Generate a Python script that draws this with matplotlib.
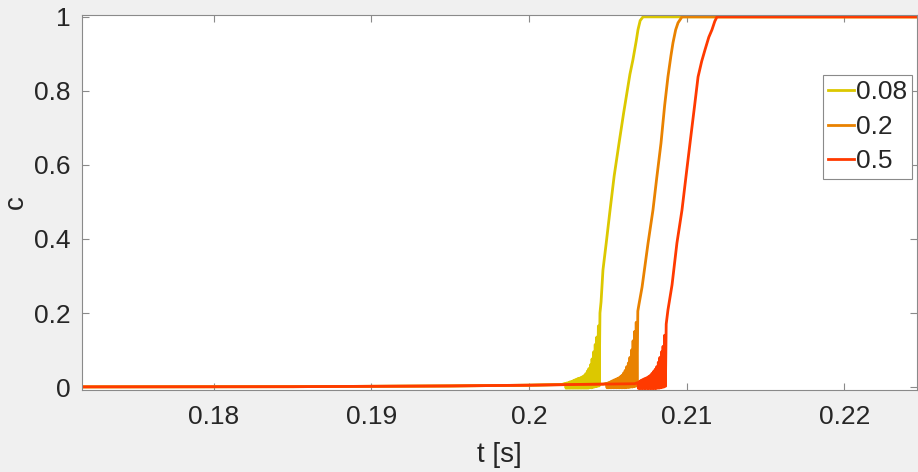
import numpy as np
import matplotlib
matplotlib.use('Agg')
import matplotlib.pyplot as plt
from matplotlib.ticker import FuncFormatter

plt.rcParams['font.family'] = ['Liberation Sans', 'DejaVu Sans']

# series 0.08 (flat start, oscillating onset, rise to 1)
t_008 = [0.1717, 0.185, 0.195, 0.200, 0.2021,
         0.2023, 0.20235, 0.2024, 0.20245, 0.2025, 0.20255, 0.2026, 0.20265,
         0.2027, 0.20275, 0.2028, 0.20285, 0.2029, 0.20295, 0.2030, 0.20305,
         0.2031, 0.20315, 0.2032, 0.20325, 0.2033, 0.20335, 0.2034, 0.20345,
         0.2035, 0.20355, 0.2036, 0.20365, 0.2037, 0.20375, 0.2038, 0.20385,
         0.2039, 0.20395, 0.2040, 0.20405, 0.2041, 0.20415, 0.2042, 0.20425,
         0.2043, 0.20435, 0.2044, 0.20445, 0.2045,
         0.20457, 0.20469, 0.2049, 0.20514, 0.2054, 0.20571, 0.2060, 0.20621,
         0.2064, 0.20659, 0.2068, 0.20691, 0.20705, 0.20723, 0.2247]
c_008 = [0.0005, 0.001, 0.003, 0.005, 0.007,
         0.010, -0.003, 0.011, -0.003, 0.012, -0.003, 0.014, -0.003,
         0.015, -0.003, 0.017, -0.003, 0.019, -0.003, 0.021, -0.003,
         0.023, -0.003, 0.024, -0.003, 0.026, -0.003, 0.028, -0.003,
         0.031, -0.003, 0.036, -0.003, 0.043, -0.003, 0.050, -0.002,
         0.060, -0.002, 0.076, -0.001, 0.095, 0.000, 0.115, 0.001,
         0.135, 0.002, 0.165, 0.003, 0.200,
         0.230, 0.316, 0.390, 0.478, 0.570, 0.659, 0.740, 0.795,
         0.845, 0.884, 0.935, 0.965, 0.990, 1.0, 1.0]

# series 0.2
t_02 = [0.1717, 0.185, 0.195, 0.200, 0.2030, 0.2047,
        0.2049, 0.20495, 0.2050, 0.20505, 0.2051, 0.20515, 0.2052, 0.20525,
        0.2053, 0.20535, 0.2054, 0.20545, 0.2055, 0.20555, 0.2056, 0.20565,
        0.2057, 0.20575, 0.2058, 0.20585, 0.2059, 0.20595, 0.2060, 0.20605,
        0.2061, 0.20615, 0.2062, 0.20625, 0.2063, 0.20635, 0.2064, 0.20645,
        0.2065, 0.20655, 0.2066, 0.20665, 0.2067, 0.20675, 0.2068, 0.20685,
        0.2069,
        0.20698, 0.20717, 0.20755, 0.20786, 0.2081, 0.20837, 0.2086, 0.20881,
        0.2090, 0.20913, 0.2093, 0.20945, 0.20970, 0.2247]
c_02 = [0.0005, 0.001, 0.003, 0.005, 0.007, 0.008,
        0.010, -0.002, 0.011, -0.002, 0.013, -0.002, 0.015, -0.002,
        0.017, -0.002, 0.019, -0.002, 0.021, -0.002, 0.023, -0.002,
        0.025, -0.002, 0.028, -0.002, 0.032, -0.002, 0.038, -0.002,
        0.045, -0.002, 0.055, -0.001, 0.065, -0.001, 0.080, 0.000,
        0.100, 0.000, 0.125, 0.001, 0.150, 0.002, 0.175, 0.003,
        0.205,
        0.225, 0.270, 0.389, 0.478, 0.565, 0.659, 0.760, 0.838,
        0.895, 0.930, 0.965, 0.984, 1.0, 1.0]

# series 0.5
t_05 = [0.1717, 0.185, 0.195, 0.200, 0.2030, 0.2050, 0.2067,
        0.2069, 0.20695, 0.2070, 0.20705, 0.2071, 0.20715, 0.2072, 0.20725,
        0.2073, 0.20735, 0.2074, 0.20745, 0.2075, 0.20755, 0.2076, 0.20765,
        0.2077, 0.20775, 0.2078, 0.20785, 0.2079, 0.20795, 0.2080, 0.20805,
        0.2081, 0.20815, 0.2082, 0.20825, 0.2083, 0.20835, 0.2084, 0.20845,
        0.2085, 0.20855, 0.2086, 0.20865, 0.2087,
        0.20881, 0.20907, 0.20938, 0.20970, 0.2100, 0.21021, 0.2105, 0.21072,
        0.21095, 0.21116, 0.2114, 0.21160, 0.21178, 0.21192, 0.2247]
c_05 = [0.0005, 0.001, 0.003, 0.005, 0.007, 0.008, 0.009,
        0.012, -0.004, 0.015, -0.004, 0.018, -0.004, 0.020, -0.004,
        0.022, -0.004, 0.024, -0.004, 0.026, -0.004, 0.029, -0.004,
        0.032, -0.004, 0.037, -0.004, 0.042, -0.004, 0.048, -0.004,
        0.055, -0.003, 0.067, -0.003, 0.080, -0.002, 0.095, -0.001,
        0.110, 0.000, 0.140, 0.002, 0.170,
        0.208, 0.276, 0.389, 0.478, 0.585, 0.659, 0.760, 0.838,
        0.880, 0.911, 0.945, 0.965, 0.988, 1.0, 1.0]

labels = ['0.08', '0.2', '0.5']
colors = ['#dcc800', '#e98200', '#ff3a00']

xticks = [0.18, 0.19, 0.20, 0.21, 0.22]
yticks = [0, 0.2, 0.4, 0.6, 0.8, 1]

fig = plt.figure(figsize=(9.18, 4.72), dpi=100, facecolor='#f0f0f0')
ax = fig.add_axes([0.0893, 0.1737, 0.9096, 0.7945])

ax.plot(t_008, c_008, color=colors[0], lw=2.0, label=labels[0])
ax.plot(t_02, c_02, color=colors[1], lw=2.0, label=labels[1])
ax.plot(t_05, c_05, color=colors[2], lw=2.0, label=labels[2])

ax.set_xlim(0.17166, 0.2246)
ax.set_ylim(-0.008, 1.005)
ax.set_xticks(xticks)
ax.set_yticks(yticks)
ax.xaxis.set_major_formatter(FuncFormatter(lambda v, p: '%g' % round(v, 4)))
ax.yaxis.set_major_formatter(FuncFormatter(lambda v, p: '%g' % round(v, 4)))

for s in ax.spines.values():
    s.set_color('#8a8a8a')
    s.set_linewidth(0.8)
ax.tick_params(direction='in', length=5, width=0.8, color='#8a8a8a',
               labelcolor='#262626', labelsize=19, top=True, right=True)
ax.tick_params(axis='x', pad=11)
ax.tick_params(axis='y', pad=8)

ax.set_xlabel('t [s]', fontsize=20, color='#262626', labelpad=9)
ax.set_ylabel('c', fontsize=20, color='#262626')
ax.yaxis.set_label_coords(-0.063, 0.5)

leg = ax.legend(loc='upper right', bbox_to_anchor=(0.994, 0.84), borderaxespad=0,
                fontsize=19, handlelength=1.0, handletextpad=0.05,
                borderpad=0.2, labelspacing=0.4, fancybox=False,
                framealpha=1, edgecolor='#8a8a8a')
leg.get_frame().set_linewidth(0.8)
for txt in leg.get_texts():
    txt.set_color('#262626')

fig.savefig('out.png', dpi=100, facecolor=fig.get_facecolor())
